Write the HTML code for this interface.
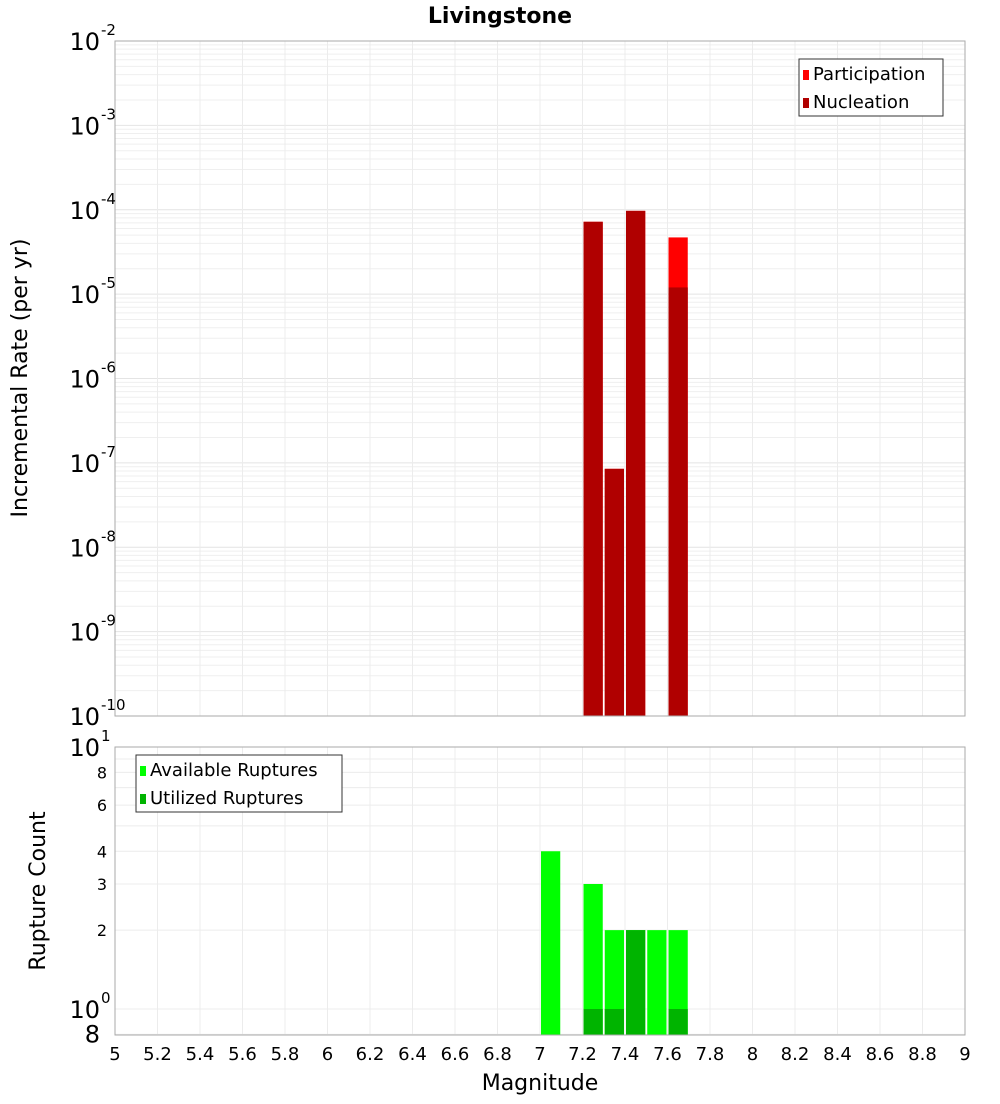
<!DOCTYPE html>
<html><head><meta charset="utf-8"><style>
body{margin:0;background:#fff;font-family:"DejaVu Sans","Liberation Sans",sans-serif;}
svg text{font-family:"DejaVu Sans","Liberation Sans",sans-serif;}
</style></head><body>
<svg id="c" width="1000" height="1100" xmlns="http://www.w3.org/2000/svg">
<text x="500" y="23" text-anchor="middle" font-size="22" font-weight="bold">Livingstone</text>
<g id="topg"></g>
<g id="botg"></g>
<text transform="translate(27,378) rotate(-90)" text-anchor="middle" font-size="22">Incremental Rate (per yr)</text>
<text transform="translate(45,891) rotate(-90)" text-anchor="middle" font-size="22">Rupture Count</text>
<text x="540" y="1090" text-anchor="middle" font-size="22">Magnitude</text>
</svg>
<script>
const mags=[7.05,7.25,7.35,7.45,7.55,7.65];
const participation=[0,7.2e-5,8.5e-8,9.7e-5,0,4.7e-5];
const nucleation=[0,7.2e-5,8.5e-8,9.7e-5,0,1.2e-5];
const available=[4,3,2,2,2,2];
const utilized=[0,1,1,2,0,1];
const xTicks=[5,5.2,5.4,5.6,5.8,6,6.2,6.4,6.6,6.8,7,7.2,7.4,7.6,7.8,8,8.2,8.4,8.6,8.8,9];
const topExp=[-2,-3,-4,-5,-6,-7,-8,-9,-10];
const botTicks=[[10,'10','1',1],[8,'8','',0],[6,'6','',0],[4,'4','',0],[3,'3','',0],[2,'2','',0],[1,'10','0',1],[0.8,'8','',2]];
const NS='http://www.w3.org/2000/svg';
const L=115,R=965;
const xs=m=>L+(m-5)/4*(R-L);
const T0=41,T1=716;
const yT=v=>T0+(-2-Math.log10(v))*(T1-T0)/8;
const B0=747,B1=1035;
const yB=v=>B0+(1-Math.log10(v))*262;
function mk(p,tag,a,name){const e=document.createElementNS(NS,tag);for(const k in a)e.setAttribute(k,a[k]);


p.appendChild(e);return e;}
const topG=document.getElementById('topg'),botG=document.getElementById('botg'),svgEl=document.getElementById('c');
for(let d=-10;d<-2;d++){for(let k=1;k<10;k++){const y=yT(k*Math.pow(10,d));mk(topG,'line',{x1:L,x2:R,y1:y,y2:y,stroke:k==1?'#e4e4e4':'#efefef','stroke-width':1},'grid-line');}}
xTicks.forEach(m=>{mk(topG,'line',{x1:xs(m),x2:xs(m),y1:T0,y2:T1,stroke:'#ececec'},'grid-line');mk(botG,'line',{x1:xs(m),x2:xs(m),y1:B0,y2:B1,stroke:'#ececec'},'grid-line');});
for(let v=0.8;v<=10.01;v+=(v<1?0.2:1)){const y=yB(v);mk(botG,'line',{x1:L,x2:R,y1:y,y2:y,stroke:'#ececec'},'grid-line');}
const w=(R-L)/40;
mags.forEach((m,i)=>{
 if(participation[i]>0)mk(topG,'rect',{x:xs(m)-w/2+1,width:w-2,y:yT(participation[i]),height:T1-yT(participation[i]),fill:'#ff0000'},'participation-bar');
 if(nucleation[i]>0)mk(topG,'rect',{x:xs(m)-w/2+1,width:w-2,y:yT(nucleation[i]),height:T1-yT(nucleation[i]),fill:'#b00000'},'nucleation-bar');
 if(available[i]>0)mk(botG,'rect',{x:xs(m)-w/2+1,width:w-2,y:yB(available[i]),height:B1-yB(available[i]),fill:'#00ff00'},'available-bar');
 if(utilized[i]>0)mk(botG,'rect',{x:xs(m)-w/2+1,width:w-2,y:yB(utilized[i]),height:B1-yB(utilized[i]),fill:'#00b400'},'utilized-bar');
});
mk(topG,'rect',{x:L,y:T0,width:R-L,height:T1-T0,fill:'none',stroke:'#aaa'},'plot-border');
mk(botG,'rect',{x:L,y:B0,width:R-L,height:B1-B0,fill:'none',stroke:'#aaa'},'plot-border');
topExp.forEach(e=>{const y=yT(Math.pow(10,e));const t=mk(svgEl,'text',{x:100,y:y+9,'text-anchor':'end','font-size':24},'y-tick-label');t.textContent='10';
const s=mk(svgEl,'text',{x:101,y:y-6,'font-size':15},'y-tick-exponent');s.textContent=String(e);});
botTicks.forEach(([v,b,e,big])=>{const y=yB(v);const t=mk(svgEl,'text',{x:big?100:107,y:y+(big==1?9:(big==2?8:6)),'text-anchor':'end','font-size':big?24:16},'y-tick-label');t.textContent=b;
if(e){const s=mk(svgEl,'text',{x:101,y:y-6,'font-size':15},'y-tick-exponent');s.textContent=e;}});
xTicks.forEach(m=>{const t=mk(svgEl,'text',{x:xs(m),y:1060,'text-anchor':'middle','font-size':18},'x-tick-label');t.textContent=String(m);});
function legend(p,x,y,wd,items,nm){mk(p,'rect',{x:x,y:y,width:wd,height:57,fill:'#fff',stroke:'#333'},nm);
items.forEach((it,i)=>{mk(p,'rect',{x:x+4,y:y+11+i*28,width:6,height:10,fill:it[1]},nm+'-swatch');const t=mk(p,'text',{x:x+14,y:y+21+i*28,'font-size':18},nm+'-label');t.textContent=it[0];});}
legend(topG,799,59,144,[['Participation','#ff0000'],['Nucleation','#b00000']],'legend-rate');
legend(botG,136,755,206,[['Available Ruptures','#00ff00'],['Utilized Ruptures','#00b400']],'legend-count');
</script>
</body></html>
